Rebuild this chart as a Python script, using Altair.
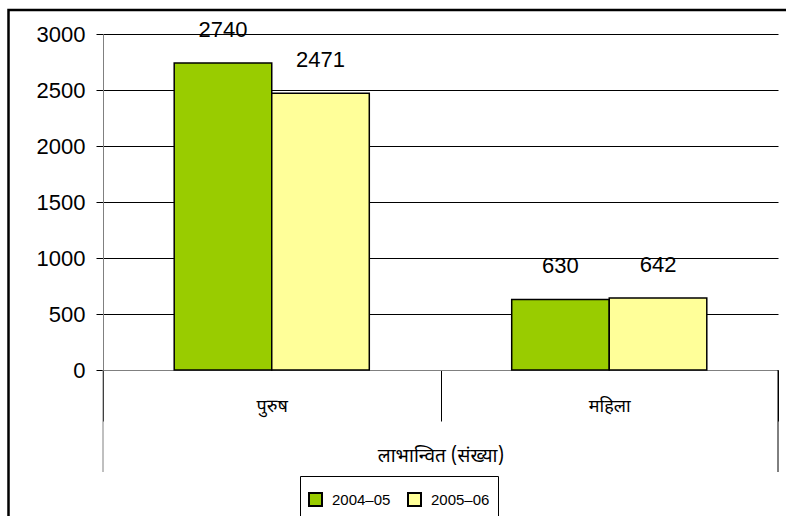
import altair as alt
import pandas as pd

categories = ["पुरुष", "महिला"]
years = ["2004–05", "2005–06"]
values_2004_05 = [2740, 630]
values_2005_06 = [2471, 642]
y_ticks = [0, 500, 1000, 1500, 2000, 2500, 3000]
colors = ["#99CC00", "#FFFF99"]

rows = []
for i, c in enumerate(categories):
    rows.append({"category": c, "year": years[0], "value": values_2004_05[i]})
    rows.append({"category": c, "year": years[1], "value": values_2005_06[i]})
df = pd.DataFrame(rows)
one = pd.DataFrame({"a": [0]})

DEV = "Noto Sans Devanagari, Lohit Devanagari, Mangal, FreeSans, Noto Sans, sans-serif"
LAT = "Arial, Liberation Sans, sans-serif"

W, H = 675, 336

frame = alt.Chart(one).mark_rect(fillOpacity=0, stroke="black", strokeWidth=2.5).encode(
    x=alt.value(-94.5), y=alt.value(-24), x2=alt.value(720), y2=alt.value(520)
)
left_edge = alt.Chart(one).mark_rule(color="#808080", strokeWidth=1).encode(
    x=alt.value(0), y=alt.value(H), y2=alt.value(H + 102)
)
right_edge = alt.Chart(one).mark_rule(color="black", strokeWidth=1).encode(
    x=alt.value(W), y=alt.value(H), y2=alt.value(H + 102)
)

base = alt.Chart(df).encode(
    x=alt.X(
        "category:N",
        sort=categories,
        scale=alt.Scale(paddingInner=0, paddingOuter=0),
        title="लाभान्वित (संख्या)",
        axis=alt.Axis(
            labelAngle=0,
            tickBand="extent",
            tickSize=51,
            tickColor="black",
            labelPadding=-24,
            labelFontSize=18,
            labelFont=DEV,
            labelColor="black",
            titleFont=DEV,
            titleFontSize=19,
            titleFontWeight="normal",
            titleColor="black",
            titlePadding=25,
            domainColor="#808080",
            grid=False,
        ),
    ),
    xOffset=alt.XOffset(
        "year:N", sort=years, scale=alt.Scale(paddingOuter=0.73, paddingInner=0)
    ),
)

bars = base.mark_bar(stroke="black", strokeWidth=1.5).encode(
    y=alt.Y(
        "value:Q",
        scale=alt.Scale(domain=[0, 3000]),
        title=None,
        axis=alt.Axis(
            values=y_ticks,
            format="d",
            tickSize=7,
            tickColor="black",
            labelPadding=11,
            labelFontSize=22,
            labelFont=LAT,
            labelColor="black",
            domainColor="#808080",
            gridColor="black",
            gridWidth=1,
        ),
    ),
    color=alt.Color(
        "year:N",
        sort=years,
        scale=alt.Scale(domain=years, range=colors),
        legend=alt.Legend(
            orient="none",
            legendX=197,
            legendY=442,
            direction="horizontal",
            title=" ",
            titleFontSize=8,
            titlePadding=0,
            strokeColor="black",
            fillColor="white",
            padding=8,
            symbolType="square",
            symbolSize=169,
            symbolStrokeColor="black",
            symbolStrokeWidth=2,
            symbolOpacity=1,
            labelFontSize=15,
            labelFont=LAT,
            labelColor="black",
            labelOffset=9,
            columnPadding=13,
        ),
    ),
)

labels = base.mark_text(
    baseline="bottom", dy=-21, fontSize=22, font=LAT, color="black"
).encode(y=alt.Y("value:Q"), text=alt.Text("value:Q"))

chart = (
    alt.layer(frame, left_edge, right_edge, bars, labels)
    .properties(
        width=W,
        height=H,
        autosize="none",
        padding={"left": 103, "top": 34, "right": 8, "bottom": 146},
    )
    .configure_view(stroke=None)
)

chart.save("out.html", embed_options={"renderer": "svg", "actions": False})
